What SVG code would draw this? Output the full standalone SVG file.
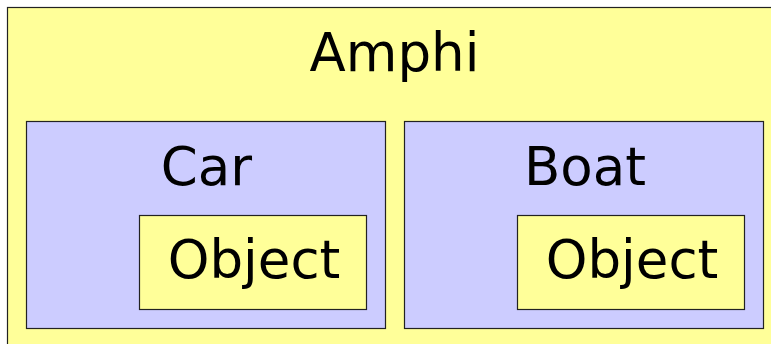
<svg xmlns="http://www.w3.org/2000/svg" width="771" height="344" viewBox="0 0 771 344">
<style>
.y{fill:#ffff99;stroke:#222;stroke-width:1.2}
.b{fill:#ccccff;stroke:#222;stroke-width:1.2}
text{font-family:"DejaVu Sans",Verdana,sans-serif;font-size:53px;fill:#000;text-anchor:middle}
</style>
<rect width="771" height="344" fill="#ffffff"/>
<g id="amphi">
<rect class="y" x="7.5" y="7.5" width="780" height="360"/>
<text x="394.5" y="71">Amphi</text>
</g>
<g id="car">
<rect class="b" x="26.5" y="121.5" width="359" height="207"/>
<text x="206.5" y="185">Car</text>
</g>
<g id="car-object">
<rect class="y" x="139.5" y="215.5" width="227" height="94"/>
<text x="254" y="278">Object</text>
</g>
<g id="boat">
<rect class="b" x="404.5" y="121.5" width="359" height="207"/>
<text x="585" y="185">Boat</text>
</g>
<g id="boat-object">
<rect class="y" x="517.5" y="215.5" width="227" height="94"/>
<text x="632" y="278">Object</text>
</g>
<g id="connectors"></g>
</svg>
